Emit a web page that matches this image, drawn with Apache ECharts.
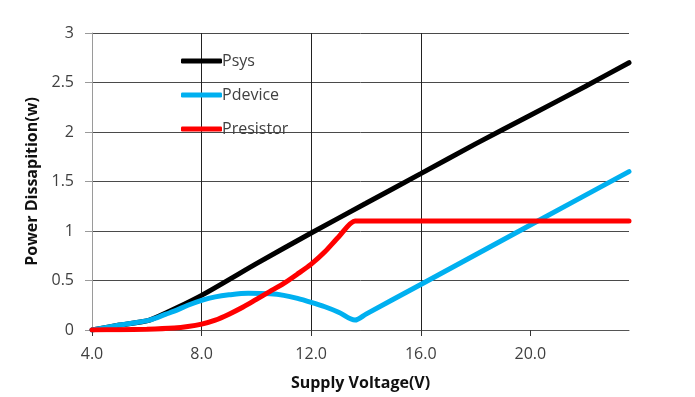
<!DOCTYPE html>
<html>
<head>
<meta charset="utf-8">
<script src="https://cdn.jsdelivr.net/npm/echarts@6.0.0/dist/echarts.min.js"></script>
<style>
  html, body { margin: 0; padding: 0; background: #fff; }
  #chart { width: 695px; height: 397px; }
</style>
</head>
<body>
<div id="chart"></div>
<script>
// values (volts, watts)
var psysV = [4, 5, 6.1, 8, 10, 12, 14, 16, 18, 20, 22, 23.6];
var psysP = [0, 0.05, 0.1, 0.35, 0.67, 0.98, 1.28, 1.58, 1.88, 2.17, 2.46, 2.7];

var pdevV = [4, 5, 6.1, 6.7, 7, 7.5, 8, 8.5, 9, 9.7, 10.5, 11, 11.5, 12, 12.5, 13, 13.6, 14, 16, 20, 23.6];
var pdevP = [0, 0.05, 0.1, 0.16, 0.19, 0.25, 0.3, 0.335, 0.355, 0.37, 0.365, 0.35, 0.32, 0.28, 0.235, 0.18, 0.1, 0.16, 0.46, 1.06, 1.6];

var presV = [4, 5, 6, 7, 7.5, 8, 8.5, 9, 9.5, 10, 10.5, 11, 11.5, 12, 12.5, 13, 13.6, 14, 23.6];
var presP = [0, 0.003, 0.008, 0.02, 0.035, 0.06, 0.1, 0.16, 0.23, 0.31, 0.39, 0.47, 0.565, 0.665, 0.79, 0.94, 1.1, 1.1, 1.1];

var xTicks = [4, 8, 12, 16, 20];
var names = ['Psys', 'Pdevice', 'Presistor'];
var colors = ['#000000', '#00b0f0', '#ff0000'];

function pairs(xs, ys) {
  return xs.map(function (x, i) { return [x, ys[i]]; });
}

var font = '"Open Sans", "Noto Sans", sans-serif';

var chart = echarts.init(document.getElementById('chart'));
chart.setOption({
  animation: false,
  color: colors,
  grid: { left: 92, top: 33, right: 66, bottom: 67 },
  legend: {
    orient: 'vertical',
    left: 181,
    top: 53,
    padding: 0,
    itemWidth: 41,
    itemHeight: 5,
    itemGap: 18,
    icon: 'roundRect',
    data: names,
    textStyle: { fontFamily: font, fontSize: 16, color: '#404040', padding: [0, 0, 0, -5] }
  },
  xAxis: {
    type: 'value',
    min: 4,
    max: 23.6,
    interval: 4,
    name: 'Supply Voltage(V)',
    nameLocation: 'middle',
    nameGap: 45,
    nameTextStyle: { fontFamily: font, fontSize: 16, fontWeight: 'bold', color: '#111' },
    axisLine: { onZero: true, lineStyle: { color: '#555', width: 1 } },
    axisTick: { show: true, length: 6, customValues: xTicks, lineStyle: { color: '#333' } },
    axisLabel: {
      customValues: xTicks,
      margin: 16,
      fontFamily: font, fontSize: 16, color: '#404040',
      formatter: function (v) { return v.toFixed(1); }
    },
    splitLine: { show: true, showMinLine: false, showMaxLine: false, lineStyle: { color: '#222', width: 1 } }
  },
  yAxis: {
    type: 'value',
    min: 0,
    max: 3,
    interval: 0.5,
    name: 'Power Dissapition(w)',
    nameLocation: 'middle',
    nameGap: 50,
    nameTextStyle: { fontFamily: font, fontSize: 16, fontWeight: 'bold', color: '#111' },
    axisLine: { show: true, lineStyle: { color: '#9a9a9a', width: 1 } },
    axisTick: { show: true, length: 7, lineStyle: { color: '#9a9a9a' } },
    axisLabel: { margin: 18, fontFamily: font, fontSize: 16, color: '#404040' },
    splitLine: { show: true, lineStyle: { color: '#4a4a4a', width: 1 } }
  },
  series: [
    { name: names[0], type: 'line', data: pairs(psysV, psysP), smooth: 0.2, showSymbol: false, lineStyle: { width: 5, cap: 'round' } },
    { name: names[1], type: 'line', data: pairs(pdevV, pdevP), smooth: 0.3, showSymbol: false, lineStyle: { width: 5, cap: 'round' } },
    { name: names[2], type: 'line', data: pairs(presV, presP), smooth: 0.25, showSymbol: false, lineStyle: { width: 5, cap: 'round' } }
  ]
});
</script>
</body>
</html>
